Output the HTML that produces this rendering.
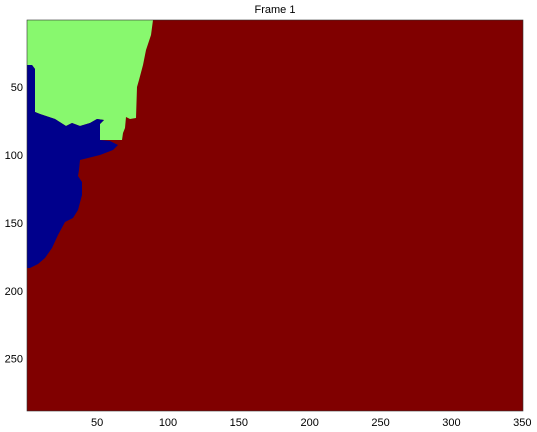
<!DOCTYPE html>
<html><head><meta charset="utf-8"><style>
body{margin:0;background:#fff;width:537px;height:432px;overflow:hidden}
svg{display:block;font-family:"Liberation Sans",sans-serif}
</style></head><body>
<svg id="chart" width="537" height="432" viewBox="0 0 537 432">
<text x="275" y="13" font-size="11" text-anchor="middle">Frame 1</text>
<g>
<rect x="27" y="20" width="496" height="391" fill="#800000"/>
<polygon fill="#88f86e" points="27,20 153,20 151,35 146,50 143,65 139,80 137,87 136,118 130,119 126,117 125,128 123,133 122,140 100,140 100,124 104,120 97,119 90,123 80,126 72,123 66,126 55,119 40,114 35,112 35,69 32,65 27,65"/>
<polygon fill="#00008c" points="27,65 32,65 35,69 35,112 40,114 55,119 66,126 72,123 80,126 90,123 97,119 104,120 100,124 100,140 110,141 118,145 113,150 100,155 88,158 80,160 79,170 78,176 82,182 82,195 78,210 73,218 65,222 58,235 52,248 45,258 38,264 30,268 27,268"/>
<rect x="27" y="20" width="496" height="391" fill="none" stroke="#333" stroke-width="0.6"/>
</g>
<g id="xt"></g>
<g id="yt"></g>
</svg>
<script>
const xTicks=[50,100,150,200,250,300,350];
const yTicks=[50,100,150,200,250];
const x=v=>27+(v-0.5)*(496/350);
const y=v=>20+(v-0.5)*(391/288);
const ns="http://www.w3.org/2000/svg";
const xg=document.getElementById('xt'),yg=document.getElementById('yt');
xTicks.forEach(t=>{
 const tx=document.createElementNS(ns,'text');
 tx.setAttribute('x',x(t));tx.setAttribute('y',426);
 tx.setAttribute('font-size','11');tx.setAttribute('text-anchor','middle');
 
 
 tx.textContent=t;xg.appendChild(tx);
});
yTicks.forEach(t=>{
 const tx=document.createElementNS(ns,'text');
 tx.setAttribute('x',23);tx.setAttribute('y',y(t)+4);
 tx.setAttribute('font-size','11');tx.setAttribute('text-anchor','end');
 
 
 tx.textContent=t;yg.appendChild(tx);
});
</script>
</body></html>
